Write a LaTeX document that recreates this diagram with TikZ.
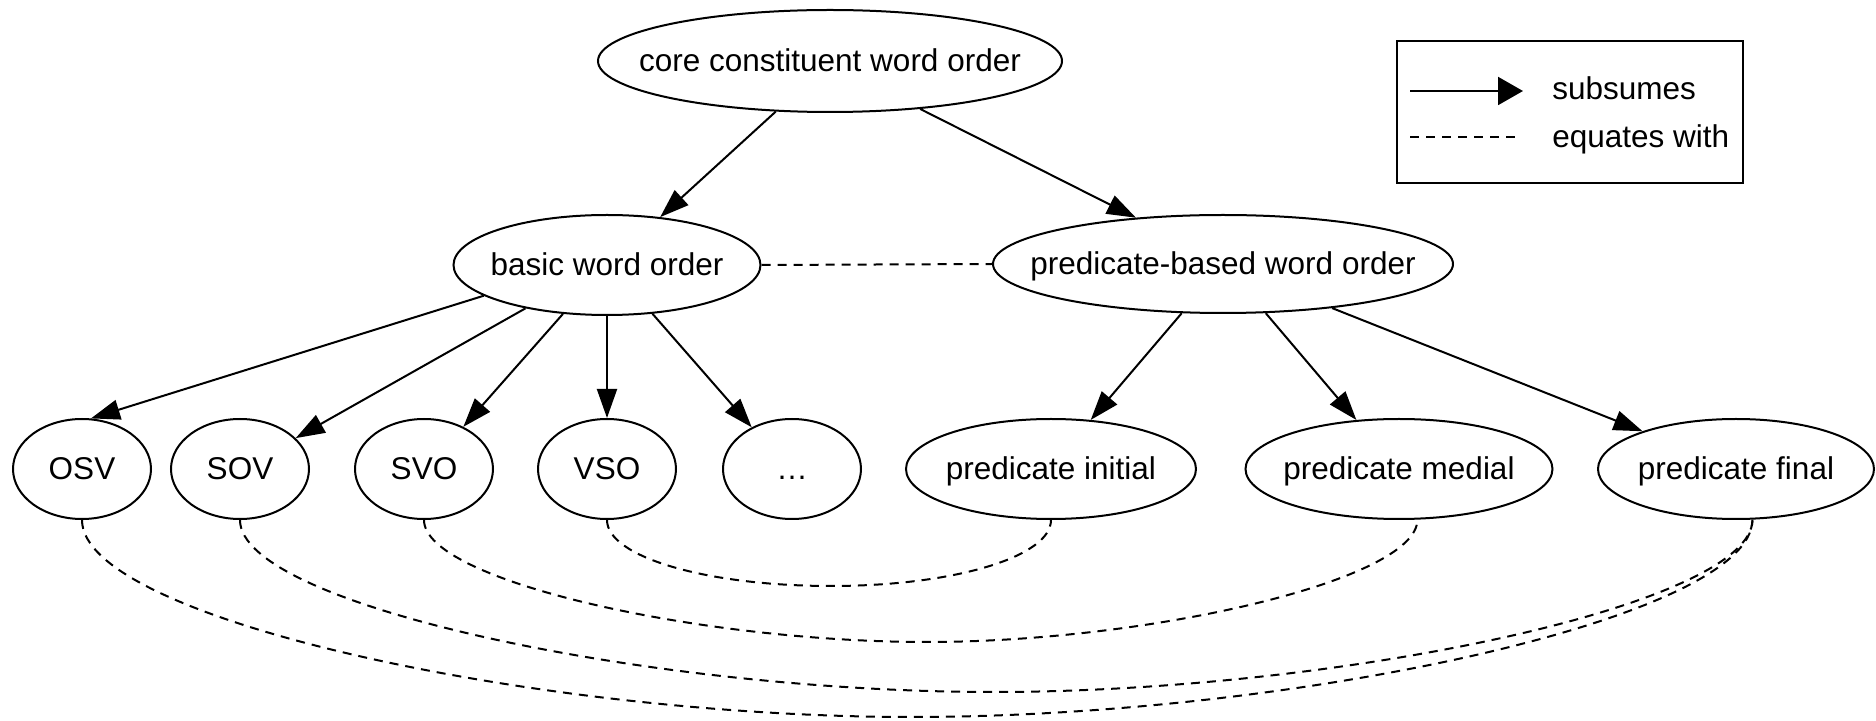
\documentclass[tikz,border=0pt]{standalone}
\usepackage{fontspec}
\setmainfont{Liberation Sans}
\usetikzlibrary{arrows.meta,shapes.geometric}
% text inside an oval: zero-width, cap-height box so the oval keeps its
% given size and every label sits on the same baseline
\newcommand\ovaltext[1]{\makebox[0pt]{\smash{#1}\vphantom{H}}}
\begin{document}
\begin{tikzpicture}[x=0.5pt,y=-0.5pt,
  every node/.style={font=\fontsize{15.75}{18}\selectfont},
  oval/.style={draw, line width=1pt, ellipse, inner sep=0pt, minimum height=50pt},
  small/.style={oval, minimum width=69pt},
  sub/.style={draw, line width=1pt, -{Triangle[length=14.5pt,width=10pt]}},
  eq/.style={draw, line width=1pt, dash pattern=on 4.5pt off 3.5pt},
  legtext/.style={inner sep=0pt, anchor=base west}]
\useasboundingbox (0,0) rectangle (1876,721);

% top levels
\node[oval, minimum width=232pt, minimum height=51pt] (core) at (830,61) {\ovaltext{core constituent word order}};
\node[oval, minimum width=153.5pt] (basic) at (607,265) {\ovaltext{basic word order}};
\node[oval, minimum width=230pt, minimum height=49pt] (pbased) at (1223,264) {\ovaltext{predicate-based word order}};

% leaves
\node[small] (osv) at (82,469) {\ovaltext{OSV}};
\node[small] (sov) at (240,469) {\ovaltext{SOV}};
\node[small] (svo) at (424,469) {\ovaltext{SVO}};
\node[small] (vso) at (607,469) {\ovaltext{VSO}};
\node[small] (etc) at (792,469) {\ovaltext{…}};
\node[oval, minimum width=145pt] (pinit) at (1051,469) {\ovaltext{predicate initial}};
\node[oval, minimum width=153.5pt] (pmed) at (1399,469) {\ovaltext{predicate medial}};
\node[oval, minimum width=138pt] (pfinal) at (1736,469) {\ovaltext{predicate final}};

% subsumption edges
\draw[sub] (core.223) -- (basic.42);
\draw[sub] (core.332) -- (pbased.152);
\draw[sub] (basic.194) -- (osv.80);
\draw[sub] (basic.208) -- (sov.29);
\draw[sub] (basic.228) -- (svo.47);
\draw[sub] (basic.south) -- (vso.north);
\draw[sub] (basic.313) -- (etc.134);
\draw[sub] (pbased.230) -- (pinit.51);
\draw[sub] (pbased.311) -- (pmed.131);
\draw[sub] (pbased.338) -- (pfinal.158);

% equivalences
\draw[eq] (basic.east) -- (pbased.west);

\coordinate (bA) at (831,586);
\coordinate (bB) at (927,642);
\coordinate (bC) at (993,692);
\coordinate (bD) at (912,717);

\draw[eq] (vso.south) .. controls +(0,37) and +(-124,0) .. (bA)
          .. controls +(122,0) and +(0,37) .. (pinit.south);
\draw[eq] (svo.south) .. controls +(0,61) and +(-226,0) .. (bB)
          .. controls +(220,0) and +(0,61) .. (pmed.290);
\draw[eq] (sov.south) .. controls +(0,86) and +(-339,0) .. (bC)
          .. controls +(342,0) and +(0,86) .. (pfinal.288);
\draw[eq] (osv.south) .. controls +(0,99) and +(-373,0) .. (bD)
          .. controls +(378,0) and +(0,99) .. (pfinal.288);

% legend
\draw[line width=1pt] (1397,41) rectangle (1743,183);
\coordinate (s0) at (1410,91);
\coordinate (s1) at (1523,91);
\coordinate (e0) at (1410,137);
\coordinate (e1) at (1517,137);
\draw[line width=1pt, -{Triangle[length=12.5pt,width=14pt]}] (s0) -- (s1);
\draw[eq] (e0) -- (e1);
\node[legtext] (subs) at (1552,100) {subsumes};
\node[legtext] (equ) at (1552,148) {equates with};
\end{tikzpicture}
\end{document}
